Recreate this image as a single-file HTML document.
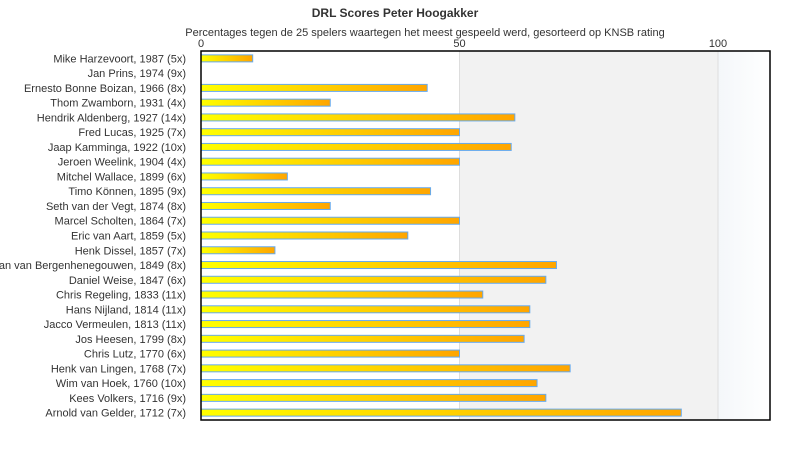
<!DOCTYPE html>
<html><head><meta charset="utf-8"><style>
body{margin:0;background:#fff;font-family:"Liberation Sans","DejaVu Sans",sans-serif}
</style></head><body>
<svg width="790" height="450" xmlns="http://www.w3.org/2000/svg">
<defs>
<linearGradient id="g" x1="0" x2="1"><stop offset="0" stop-color="#ffff00"/><stop offset="1" stop-color="#ffa500"/></linearGradient>
<linearGradient id="bg2" x1="0" x2="1"><stop offset="0" stop-color="#f4f7fa"/><stop offset="1" stop-color="#ffffff"/></linearGradient>
</defs>
<g id="root"></g>
</svg>
<script>
const categories=["Mike Harzevoort, 1987 (5x)","Jan Prins, 1974 (9x)","Ernesto Bonne Boizan, 1966 (8x)","Thom Zwamborn, 1931 (4x)","Hendrik Aldenberg, 1927 (14x)","Fred Lucas, 1925 (7x)","Jaap Kamminga, 1922 (10x)","Jeroen Weelink, 1904 (4x)","Mitchel Wallace, 1899 (6x)","Timo Können, 1895 (9x)","Seth van der Vegt, 1874 (8x)","Marcel Scholten, 1864 (7x)","Eric van Aart, 1859 (5x)","Henk Dissel, 1857 (7x)","Jan van Bergenhenegouwen, 1849 (8x)","Daniel Weise, 1847 (6x)","Chris Regeling, 1833 (11x)","Hans Nijland, 1814 (11x)","Jacco Vermeulen, 1813 (11x)","Jos Heesen, 1799 (8x)","Chris Lutz, 1770 (6x)","Henk van Lingen, 1768 (7x)","Wim van Hoek, 1760 (10x)","Kees Volkers, 1716 (9x)","Arnold van Gelder, 1712 (7x)"];
const values=[10,0,43.75,25,60.7,50,60,50,16.7,44.4,25,50,40,14.3,68.75,66.7,54.5,63.6,63.6,62.5,50,71.4,65,66.7,92.9];
const ticks=[0,50,100];
const NS="http://www.w3.org/2000/svg";
const root=document.getElementById('root');
const L=201,R=770,T=51,B=420;
const x=v=>L+v*(718-201)/100;
const rowH=(B-T)/categories.length;
const y=i=>T+(i+0.5)*rowH;
function mk(tag,attrs,parent){const e=document.createElementNS(NS,tag);for(const k in attrs)e.setAttribute(k,attrs[k]);(parent||root).appendChild(e);return e;}
let t=mk('text',{x:395,y:17,'text-anchor':'middle','font-size':12,'font-weight':'bold',fill:'#333'});t.textContent='DRL Scores Peter Hoogakker';


t=mk('text',{x:425,y:36,'text-anchor':'middle','font-size':11,fill:'#333'});t.textContent='Percentages tegen de 25 spelers waartegen het meest gespeeld werd, gesorteerd op KNSB rating';


let r=mk('rect',{x:x(50),y:T,width:x(100)-x(50),height:B-T,fill:'#f2f2f2'});


r=mk('rect',{x:x(100),y:T,width:R-x(100),height:B-T,fill:'url(#bg2)'});


ticks.forEach(v=>{
 const l=mk('line',{x1:x(v),x2:x(v),y1:T,y2:B,stroke:'#ddd'});
 
 
 const tt=mk('text',{x:x(v),y:47,'text-anchor':'middle','font-size':11,fill:'#333'});tt.textContent=v;
 
 
});
categories.forEach((c,i)=>{
 const tl=mk('text',{x:186,y:y(i)+4,'text-anchor':'end','font-size':11,fill:'#333'});tl.textContent=c;
 
 
 if(values[i]>0){
  const b=mk('rect',{x:x(0),y:y(i)-3.5,width:x(values[i])-x(0),height:7,fill:'url(#g)',stroke:'#66aaee','stroke-width':1});
  
  
 }
});
const f=mk('rect',{x:L,y:T,width:R-L,height:B-T,fill:'none',stroke:'#000','stroke-width':1.5});


</script>
</body></html>
